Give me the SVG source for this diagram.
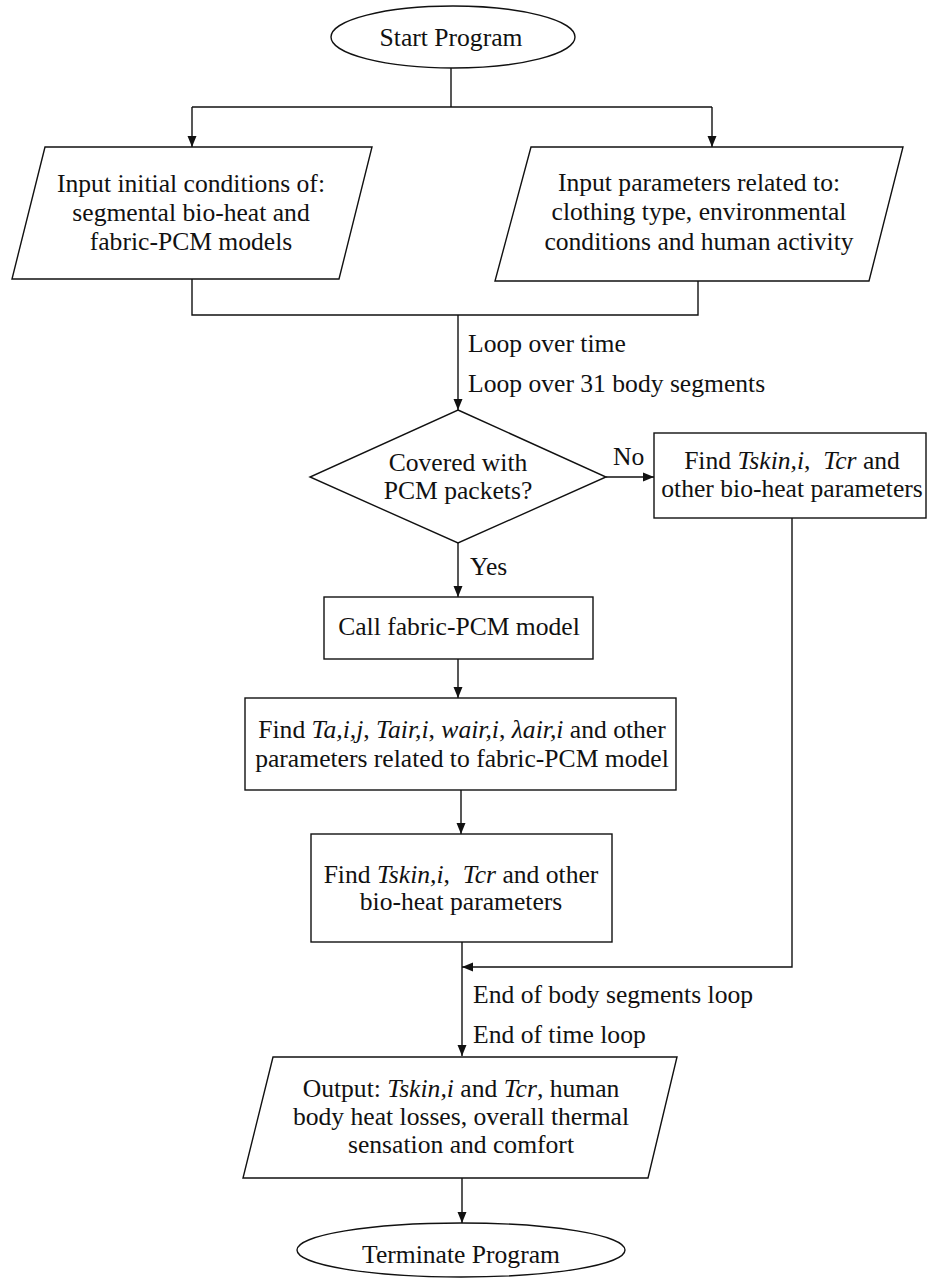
<svg xmlns="http://www.w3.org/2000/svg" width="928" height="1278" viewBox="0 0 928 1278">
<style>
.s{fill:#fff;stroke:#111;stroke-width:1.4}
.t{font-family:"Liberation Serif","Times New Roman",serif;font-size:25.6px;fill:#111;text-anchor:middle}
.l{font-family:"Liberation Serif","Times New Roman",serif;font-size:25.6px;fill:#111}
.i{font-style:italic}
.c{fill:none;stroke:#111;stroke-width:1.4}
</style>
<defs>
<marker id="a" markerUnits="userSpaceOnUse" markerWidth="12" markerHeight="12" viewBox="0 0 12 12" refX="11" refY="6" orient="auto">
<path d="M0,1.5 L11,6 L0,10.5 Z" fill="#111"/>
</marker>
</defs>
<rect width="928" height="1278" fill="#fff"/>
<g id="connectors">
<path class="c" d="M451,68 V107"/>
<path class="c" d="M192,107 H712"/>
<path class="c" d="M192,107 V147" marker-end="url(#a)"/>
<path class="c" d="M712,107 V147" marker-end="url(#a)"/>
<path class="c" d="M192,279 V315 H698 V281"/>
<path class="c" d="M458,315 V410" marker-end="url(#a)"/>
<path class="c" d="M606,477 H654" marker-end="url(#a)"/>
<path class="c" d="M458,543 V597" marker-end="url(#a)"/>
<path class="c" d="M458,659 V698" marker-end="url(#a)"/>
<path class="c" d="M461,790 V834" marker-end="url(#a)"/>
<path class="c" d="M462,942 V1056" marker-end="url(#a)"/>
<path class="c" d="M792,518 V967 H462" marker-end="url(#a)"/>
<path class="c" d="M462,1178 V1223" marker-end="url(#a)"/>
</g>
<g id="start">
<ellipse class="s" cx="453" cy="37" rx="122" ry="31"/>
<text class="t" x="451" y="46">Start Program</text>
</g>
<g id="input-initial">
<polygon class="s" points="45,147 372,147 339,279 12,279"/>
<text class="t" x="191" y="192">Input initial conditions of:</text>
<text class="t" x="191" y="221">segmental bio-heat and</text>
<text class="t" x="191" y="250">fabric-PCM models</text>
</g>
<g id="input-params">
<polygon class="s" points="531,147 903,147 869,281 495,281"/>
<text class="t" x="699" y="191">Input parameters related to:</text>
<text class="t" x="699" y="220">clothing type, environmental</text>
<text class="t" x="699" y="250">conditions and human activity</text>
</g>
<g id="loop-labels">
<text class="l" x="468" y="352">Loop over time</text>
<text class="l" x="468" y="392">Loop over 31 body segments</text>
</g>
<g id="decision">
<polygon class="s" points="458,410 606,477 458,543 310,477"/>
<text class="t" x="458" y="471">Covered with</text>
<text class="t" x="458" y="499">PCM packets?</text>
<text class="l" x="613" y="465">No</text>
<text class="l" x="470" y="575">Yes</text>
</g>
<g id="find-bioheat-no">
<rect class="s" x="654" y="433" width="272" height="85"/>
<text class="t" x="792" y="469" xml:space="preserve">Find <tspan class="i">Tskin,i</tspan>,  <tspan class="i">Tcr</tspan> and</text>
<text class="t" x="792" y="497">other bio-heat parameters</text>
</g>
<g id="call-fabric">
<rect class="s" x="324" y="597" width="269" height="62"/>
<text class="t" x="459" y="635">Call fabric-PCM model</text>
</g>
<g id="find-fabric">
<rect class="s" x="245" y="698" width="431" height="92"/>
<text class="t" x="462" y="738">Find <tspan class="i">Ta,i,j</tspan>, <tspan class="i">Tair,i</tspan>, <tspan class="i">wair,i</tspan>, <tspan class="i">λair,i</tspan> and other</text>
<text class="t" x="462" y="767">parameters related to fabric-PCM model</text>
</g>
<g id="find-bioheat-yes">
<rect class="s" x="311" y="834" width="301" height="108"/>
<text class="t" x="461" y="883" xml:space="preserve">Find <tspan class="i">Tskin,i</tspan>,  <tspan class="i">Tcr</tspan> and other</text>
<text class="t" x="461" y="910">bio-heat parameters</text>
</g>
<g id="end-labels">
<text class="l" x="473" y="1003">End of body segments loop</text>
<text class="l" x="473" y="1043">End of time loop</text>
</g>
<g id="output">
<polygon class="s" points="273,1057 677,1057 648,1178 243,1178"/>
<text class="t" x="461" y="1097">Output: <tspan class="i">Tskin,i</tspan> and <tspan class="i">Tcr</tspan>, human</text>
<text class="t" x="461" y="1125">body heat losses, overall thermal</text>
<text class="t" x="461" y="1153">sensation and comfort</text>
</g>
<g id="terminate">
<ellipse class="s" cx="461" cy="1250" rx="164" ry="27"/>
<text class="t" x="461" y="1263">Terminate Program</text>
</g>
</svg>
